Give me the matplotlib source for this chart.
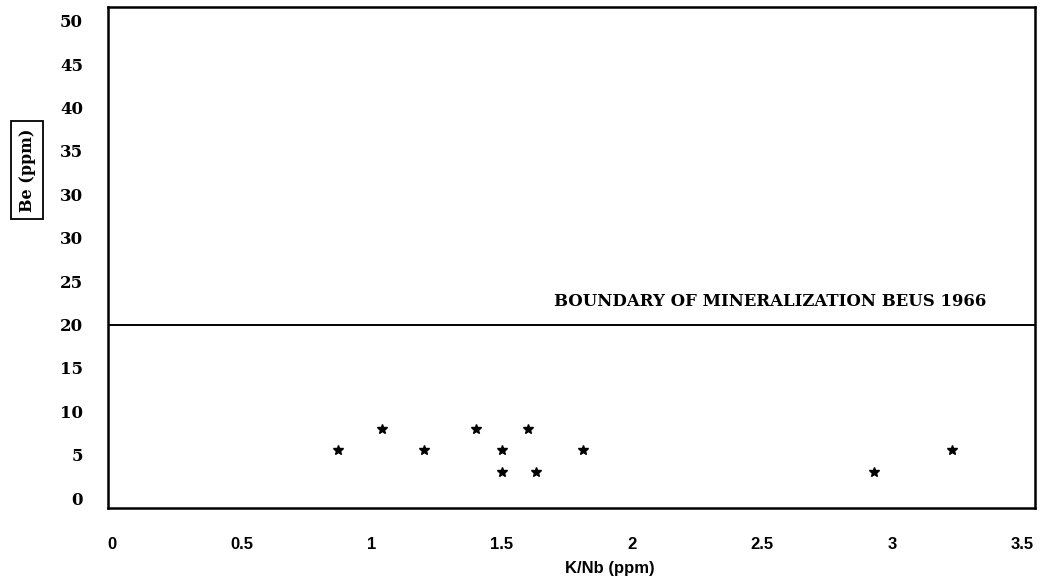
import matplotlib.pyplot as plt

# K/Nb ratio vs Be content
k_nb = [0.87, 1.04, 1.2, 1.4, 1.5, 1.5, 1.6, 1.63, 1.81, 2.93, 3.23]
be_ppm = [5.5, 8, 5.5, 8, 5.5, 3, 8, 3, 5.5, 3, 5.5]

x_ticks = [0, 0.5, 1, 1.5, 2, 2.5, 3, 3.5]
x_labels = ["0", "0.5", "1", "1.5", "2", "2.5", "3", "3.5"]
# the scan shows twelve y labels, with "30" printed twice
y_ticks = [0, 5, 10, 15, 20, 25, 30, 35, 40, 45, 50, 55]
y_labels = ["0", "5", "10", "15", "20", "25", "30", "30", "35", "40", "45", "50"]

boundary = 20
boundary_text = "BOUNDARY OF MINERALIZATION BEUS 1966"

fig = plt.figure(figsize=(10.41, 5.8), dpi=100)
ax = fig.add_axes([0.1037, 0.1241, 0.8905, 0.8639])

ax.plot(k_nb, be_ppm, linestyle="none", marker="*", color="black",
        markersize=7)
ax.axhline(boundary, color="black", linewidth=1.4)
ax.text(1.70, boundary + 2.6, boundary_text, fontsize=11.85,
        fontweight="bold", family="DejaVu Serif", va="center", ha="left")

ax.set_xlim(-0.015, 3.55)
ax.set_ylim(-1.15, 56.6)

ax.set_xticks(x_ticks)
ax.set_xticklabels(x_labels, fontsize=12, fontweight="bold",
                   family="Liberation Sans")
ax.set_yticks(y_ticks)
ax.set_yticklabels(y_labels, fontsize=12, fontweight="bold",
                   family="DejaVu Serif")
ax.tick_params(axis="x", length=0, pad=21)
ax.tick_params(axis="y", length=0, pad=18)

for side in ["left", "bottom", "right", "top"]:
    ax.spines[side].set_linewidth(1.8)
    ax.spines[side].set_color("black")

ax.set_xlabel("K/Nb (ppm)", fontsize=12, fontweight="bold",
              family="Liberation Sans")
ax.xaxis.set_label_coords(0.5415, -0.105)

# boxed y axis title, far left
fig.text(0.026, 0.707, "Be (ppm)", rotation=90, fontsize=11.5,
         fontweight="bold", family="DejaVu Serif", ha="center",
         va="center",
         bbox=dict(boxstyle="square,pad=0.45", facecolor="white",
                   edgecolor="black", linewidth=1.3))

fig.savefig("out.png", dpi=100)
